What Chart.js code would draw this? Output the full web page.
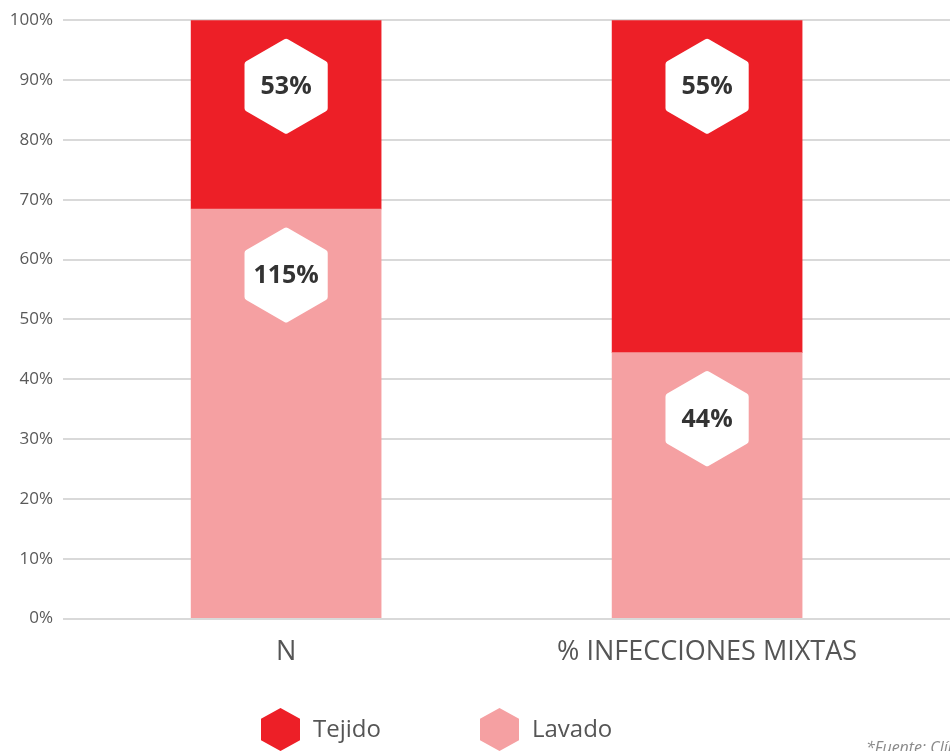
<!DOCTYPE html>
<html>
<head>
<meta charset="utf-8">
<script src="https://cdn.jsdelivr.net/npm/chart.js@4.4.0/dist/chart.umd.min.js"></script>
<style>
    html, body { margin: 0; padding: 0; background: #fff; overflow: hidden; }
    #wrap { position: relative; width: 950px; height: 751px; font-family: "Open Sans", sans-serif; }
    #legend { position: absolute; top: 708px; left: 261px; height: 44px; }
    .item { position: absolute; top: 0; white-space: nowrap; }
    .hex { position: absolute; top: 0; left: 0; width: 39px; height: 43px;
           clip-path: polygon(50% 0, 100% 25%, 100% 75%, 50% 100%, 0 75%, 0 25%); }
    .txt { position: absolute; top: 3px; left: 52px; font-size: 24px; color: #555; }
    #source { position: absolute; left: 866px; top: 736px; font-size: 16px; font-style: italic;
              color: #8a8a8a; white-space: nowrap; }
</style>
</head>
<body>
<div id="wrap">
    <canvas id="chart" width="950" height="751"></canvas>
    <div id="legend"></div>
    <div id="source">*Fuente: Clínica</div>
</div>
<script>
var categories = ['N', '% INFECCIONES MIXTAS'];
var tejido = [53, 55];
var lavado = [115, 44];
var yTicks = [0, 10, 20, 30, 40, 50, 60, 70, 80, 90, 100];

var redColor = '#ED1F27';
var pinkColor = '#F5A0A2';

// share of each series in its column (100% stacked)
function share(values, other) {
    return values.map(function(v, i) {
        return { x: i, y: v / (v + other[i]) * 100 };
    });
}

function hexPath(ctx, cx, cy, r) {
    ctx.beginPath();
    for (var k = 0; k < 6; k++) {
        var a = Math.PI / 180 * (60 * k - 90);
        var px = cx + r * Math.cos(a);
        var py = cy + r * Math.sin(a);
        if (k == 0) ctx.moveTo(px, py); else ctx.lineTo(px, py);
    }
    ctx.closePath();
}

var hexLabels = {
    id: 'hexLabels',
    afterDatasetsDraw: function(chart) {
        var ctx = chart.ctx;
        chart.data.datasets.forEach(function(ds, di) {
            var meta = chart.getDatasetMeta(di);
            meta.data.forEach(function(bar, i) {
                var cx = bar.x;
                var cy = bar.y + 66;
                ctx.save();
                hexPath(ctx, cx, cy, 44);
                ctx.fillStyle = '#fff';
                ctx.strokeStyle = '#fff';
                ctx.lineWidth = 7;
                ctx.lineJoin = 'round';
                ctx.fill();
                ctx.stroke();
                ctx.fillStyle = '#333';
                ctx.font = 'bold 25px "Open Sans"';
                ctx.textAlign = 'center';
                ctx.textBaseline = 'middle';
                ctx.fillText(ds.raw[i] + '%', cx, cy + 1);
                ctx.restore();
            });
        });
    }
};

var ctx = document.getElementById('chart').getContext('2d');
var chart = new Chart(ctx, {
    type: 'bar',
    data: {
        datasets: [
            { label: 'Lavado', raw: lavado, data: share(lavado, tejido), backgroundColor: pinkColor },
            { label: 'Tejido', raw: tejido, data: share(tejido, lavado), backgroundColor: redColor }
        ]
    },
    options: {
        responsive: false,
        animation: false,
        grouped: false,
        barThickness: 190,
        layout: { padding: { top: 17, bottom: 64, left: 0, right: 0 } },
        plugins: {
            legend: { display: false },
            tooltip: { enabled: false }
        },
        scales: {
            x: {
                type: 'linear',
                offset: false,
                min: -0.53,
                max: 1.577,
                afterBuildTicks: function(scale) {
                    scale.ticks = categories.map(function(c, i) { return { value: i }; });
                },
                ticks: {
                    autoSkip: false,
                    maxRotation: 0,
                    padding: 18,
                    color: '#555',
                    font: { family: 'Open Sans', size: 27 },
                    callback: function(v) { return categories[v]; }
                },
                grid: { display: false, drawTicks: false },
                border: { display: false }
            },
            y: {
                stacked: true,
                min: 0,
                max: 100,
                afterBuildTicks: function(scale) {
                    scale.ticks = yTicks.map(function(v) { return { value: v }; });
                },
                afterFit: function(scale) { scale.width = 63; },
                ticks: {
                    padding: 10,
                    color: '#595959',
                    font: { family: 'Open Sans', size: 17 },
                    callback: function(v) { return v + '%'; }
                },
                grid: { color: '#d9d9d9', lineWidth: 2, drawTicks: false },
                border: { display: false }
            }
        }
    },
    plugins: [hexLabels]
});

// legend, Tejido first
var legend = document.getElementById('legend');
[chart.data.datasets[1], chart.data.datasets[0]].forEach(function(ds, i) {
    var item = document.createElement('div');
    item.className = 'item';
    item.style.left = (i * 219) + 'px';
    item.innerHTML = '<div class="hex" style="background:' + ds.backgroundColor + '"></div>' +
        '<div class="txt">' + ds.label + '</div>';
    legend.appendChild(item);
});
</script>
</body>
</html>
